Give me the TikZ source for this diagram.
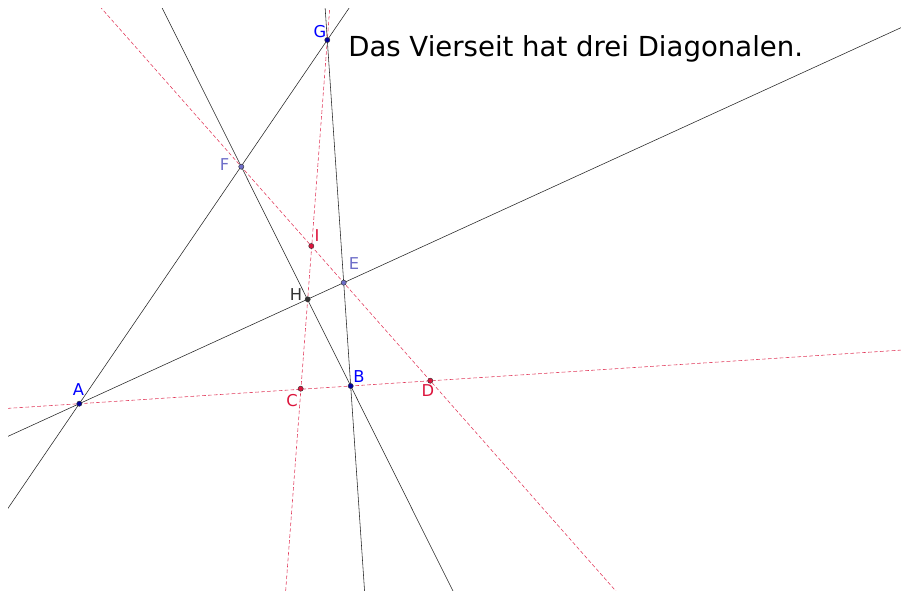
\documentclass[tikz,border=0pt]{standalone}
\usepackage{fontspec}
\setmainfont{DejaVu Sans}
\usetikzlibrary{calc,positioning}
\definecolor{blau}{RGB}{0,0,255}
\definecolor{dunkelblau}{RGB}{0,0,160}
\definecolor{lila}{RGB}{110,110,200}
\definecolor{rot}{RGB}{220,20,60}
\definecolor{grau}{RGB}{51,51,51}

\begin{document}
\begin{tikzpicture}[x=0.025cm,y=-0.025cm,
    seite/.style={line width=0.4pt, black!85},
    diag/.style={line width=0.4pt, rot!85, dash pattern=on 2.6pt off 1.6pt},
    punkt/.style={circle, inner sep=0pt, minimum size=3.7pt, draw=black!80, line width=0.3pt},
    lbl/.style={inner sep=0pt, font=\fontsize{11.6}{13}\selectfont}]
  \useasboundingbox (0,0) rectangle (901,592);
  \coordinate (A) at (79.3,403.7);
  \coordinate (B) at (350.7,386);
  \coordinate (C) at (300.7,388.7);
  \coordinate (D) at (430.3,380.7);
  \coordinate (E) at (343.7,282.7);
  \coordinate (F) at (241.3,166.7);
  \coordinate (G) at (327.3,40);
  \coordinate (H) at (307.7,299.3);
  \coordinate (I) at (311.3,246);
  % die vier Seiten und die drei Diagonalen
  \begin{scope}
    \clip (8,8) rectangle (901,590);
    \draw[diag] ($(A)!-3!(B)$) -- ($(B)!-3!(A)$);
    \draw[diag] ($(F)!-6!(E)$) -- ($(E)!-6!(F)$);
    \draw[diag] ($(G)!-3!(H)$) -- ($(H)!-3!(G)$);
    \draw[seite] ($(A)!-3!(G)$) -- ($(G)!-3!(A)$);
    \draw[seite] ($(A)!-3!(E)$) -- ($(E)!-3!(A)$);
    \draw[seite] ($(G)!-3!(B)$) -- ($(B)!-3!(G)$);
    \draw[seite] ($(F)!-3!(B)$) -- ($(B)!-3!(F)$);
  \end{scope}
  \node[punkt, fill=dunkelblau] (pA) at (A) {};
  \node[punkt, fill=dunkelblau] (pB) at (B) {};
  \node[punkt, fill=dunkelblau] (pG) at (G) {};
  \node[punkt, fill=lila] (pF) at (F) {};
  \node[punkt, fill=lila] (pE) at (E) {};
  \node[punkt, fill=grau] (pH) at (H) {};
  \node[punkt, fill=rot] (pC) at (C) {};
  \node[punkt, fill=rot] (pD) at (D) {};
  \node[punkt, fill=rot] (pI) at (I) {};
  \node[lbl, blau] (lA) at (78.5,390) {A};
  \node[lbl, blau] (lB) at (359,377) {B};
  \node[lbl, blau] (lG) at (320,32) {G};
  \node[lbl, lila] (lF) at (224.5,165) {F};
  \node[lbl, lila] (lE) at (354,264) {E};
  \node[lbl, grau] (lH) at (296,295) {H};
  \node[lbl, rot] (lC) at (292,401) {C};
  \node[lbl, rot] (lD) at (428,391) {D};
  \node[lbl, rot] (lI) at (317,236) {I};
  \node[inner sep=0pt, anchor=base west, font=\fontsize{19.6}{23}\selectfont] (titel) at (348,56)
    {Das Vierseit hat drei Diagonalen.};
\end{tikzpicture}
\end{document}
